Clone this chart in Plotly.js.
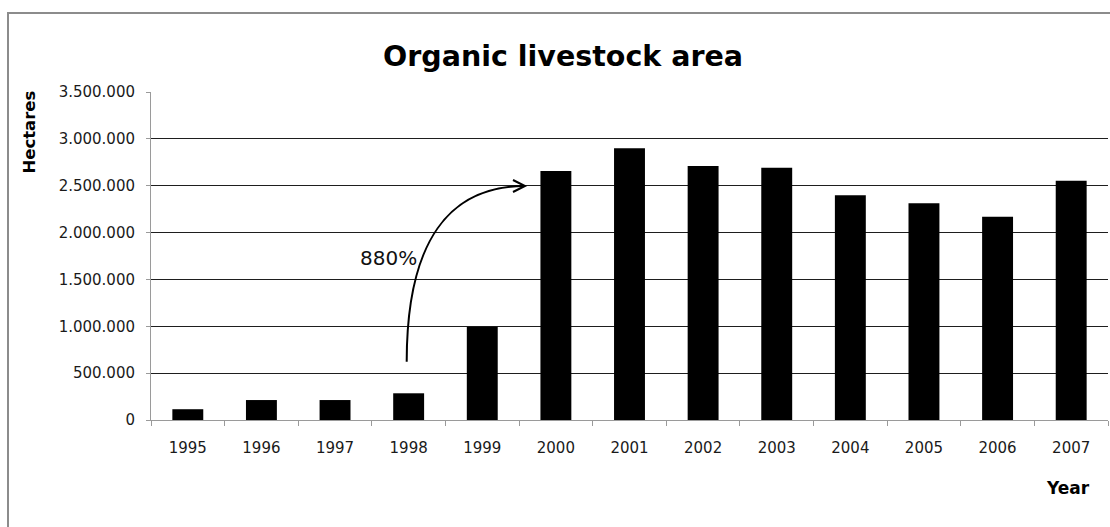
<!DOCTYPE html>
<html>
<head>
<meta charset="utf-8">
<script src="https://cdn.plot.ly/plotly-3.0.1.min.js"></script>
<style>html,body{margin:0;padding:0;background:#fff;}#chart{width:1110px;height:527px;}</style>
</head>
<body>
<div id="chart"></div>
<script>
var years = ['1995','1996','1997','1998','1999','2000','2001','2002','2003','2004','2005','2006','2007'];
var hectares = [115000, 213000, 213000, 285000, 996000, 2657000, 2900000, 2710000, 2692000, 2398000, 2312000, 2169000, 2553000];
var chartTitle = 'Organic livestock area';
var yTitle = 'Hectares';
var xTitle = 'Year';
var growthLabel = '880%';

var FONT = 'DejaVu Sans';
var TXT = '#1a1a1a';

var trace = {
  type: 'bar',
  x: years,
  y: hectares,
  marker: {color: '#000000', line: {color: '#000000', width: 0}},
  hoverinfo: 'x+y'
};

// pixel -> paper helpers (plot area: x 151..1108, y 92..420)
function px(x){ return (x - 151) / 957; }
function py(y){ return (420 - y) / 328; }

var layout = {
  width: 1110,
  height: 527,
  paper_bgcolor: '#ffffff',
  plot_bgcolor: '#ffffff',
  separators: ',.',
  showlegend: false,
  bargap: 0.58,
  margin: {l: 151, r: 2, t: 92, b: 107, pad: 0},
  font: {family: FONT, color: TXT, size: 15},
  title: {
    text: chartTitle,
    font: {family: FONT, size: 28.5, weight: 'bold', color: '#000'},
    xref: 'container', yref: 'container',
    x: 563 / 1110, xanchor: 'center',
    y: 1 - 56 / 527, yanchor: 'middle'
  },
  xaxis: {
    type: 'category',
    showline: true, linecolor: '#9a9a9a', linewidth: 1,
    ticks: 'outside', tickson: 'boundaries', ticklen: 5, tickcolor: '#9a9a9a', tickwidth: 1,
    ticklabelstandoff: 14,
    showgrid: false, zeroline: false,
    tickfont: {family: FONT, size: 15, color: TXT},
    fixedrange: true
  },
  yaxis: {
    range: [0, 3500000],
    dtick: 500000, tick0: 0,
    tickformat: ',d',
    showline: true, linecolor: '#9a9a9a', linewidth: 1,
    ticks: 'outside', ticklen: 4, tickcolor: '#9a9a9a', tickwidth: 1,
    ticklabelstandoff: 8,
    showgrid: true, gridcolor: '#1e1e1e', gridwidth: 1,
    zeroline: false,
    tickfont: {family: FONT, size: 15, color: TXT},
    fixedrange: true
  },
  shapes: [
    {type: 'rect', xref: 'paper', yref: 'paper', layer: 'below',
     x0: px(8), x1: px(1300), y0: py(700), y1: py(13),
     line: {color: '#8c8c8c', width: 2}, fillcolor: 'rgba(0,0,0,0)'},
    {type: 'path', xref: 'paper', yref: 'paper', layer: 'above',
     path: 'M ' + px(406.7) + ',' + py(361.7) + ' C ' + px(406.7) + ',' + py(240) + ' ' + px(450) + ',' + py(186) + ' ' + px(525) + ',' + py(186),
     line: {color: '#000', width: 2}},
    {type: 'path', xref: 'paper', yref: 'paper', layer: 'above',
     path: 'M ' + px(513) + ',' + py(180) + ' L ' + px(525) + ',' + py(186) + ' L ' + px(513) + ',' + py(192),
     line: {color: '#000', width: 2}}
  ],
  annotations: [
    {text: growthLabel, xref: 'paper', yref: 'paper', x: px(388), y: py(257.5),
     xanchor: 'center', yanchor: 'middle', showarrow: false,
     font: {family: FONT, size: 20, color: '#111'}},
    {text: yTitle, xref: 'paper', yref: 'paper', x: px(30), y: py(131.6),
     xanchor: 'center', yanchor: 'middle', showarrow: false, textangle: -90,
     font: {family: FONT, size: 16.5, weight: 'bold', color: '#000'}},
    {text: xTitle, xref: 'paper', yref: 'paper', x: px(1068), y: py(488),
     xanchor: 'center', yanchor: 'middle', showarrow: false,
     font: {family: FONT, size: 17, weight: 'bold', color: '#000'}}
  ]
};

Plotly.newPlot('chart', [trace], layout, {displayModeBar: false, staticPlot: true});
</script>
</body>
</html>
